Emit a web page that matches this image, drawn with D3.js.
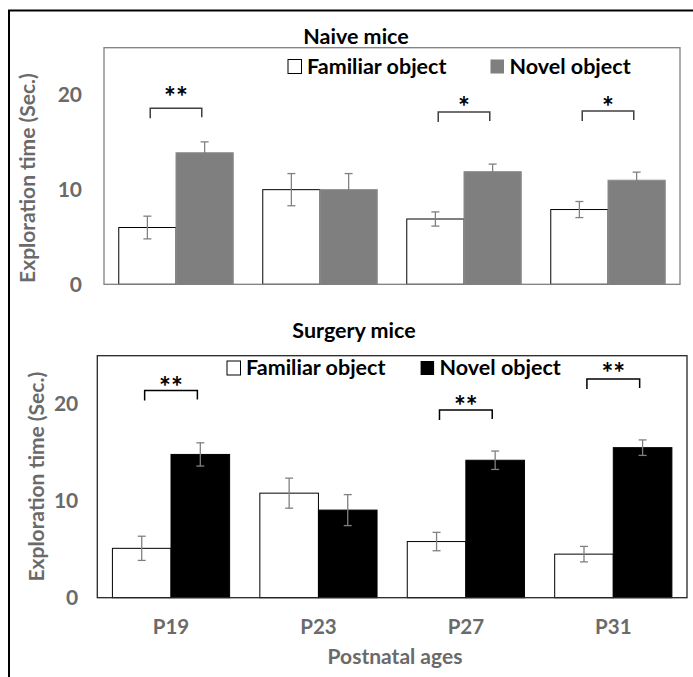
<!DOCTYPE html>
<html lang="en">
<head>
<meta charset="UTF-8">
<title>Exploration time</title>
<script src="https://d3js.org/d3.v7.min.js"></script>
<style>
    * { margin: 0; padding: 0; }
    body { background: white; font-family: Lato, "Open Sans", sans-serif; }
    text { font-family: Lato, "Open Sans", sans-serif; font-weight: bold; }
</style>
</head>
<body>
<script>
// values
const ages = ["P19", "P23", "P27", "P31"];
const yTicks = [0, 10, 20];
const seriesNames = ["Familiar object", "Novel object"];

const naiveFamiliar    = [6.0, 10.0, 6.9, 7.9];
const naiveFamiliarErr = [1.2, 1.7, 0.75, 0.85];
const naiveNovel       = [13.9, 10.0, 11.9, 11.0];
const naiveNovelErr    = [1.15, 1.7, 0.8, 0.85];

const surgeryFamiliar    = [5.1, 10.8, 5.8, 4.5];
const surgeryFamiliarErr = [1.25, 1.55, 0.95, 0.8];
const surgeryNovel       = [14.8, 9.05, 14.2, 15.5];
const surgeryNovelErr    = [1.2, 1.6, 0.95, 0.8];

// significance marks: bracket level and star level in seconds
const naiveSig = [
    { age: "P19", stars: "**", level: 18.6, labelLevel: 20.2 },
    { age: "P27", stars: "*",  level: 18.2, labelLevel: 19.2 },
    { age: "P31", stars: "*",  level: 18.3, labelLevel: 19.2 }
];
const surgerySig = [
    { age: "P19", stars: "**", level: 21.4, labelLevel: 22.2 },
    { age: "P27", stars: "**", level: 19.4, labelLevel: 20.2 },
    { age: "P31", stars: "**", level: 22.6, labelLevel: 23.6 }
];

const W = 693, H = 677;
const svg = d3.select("body").append("svg")
    .attr("width", W)
    .attr("height", H);

// outer frame (top and left edges only)
svg.append("path")
    .attr("d", `M9,${H} V10.5 H${W}`)
    .attr("fill", "none")
    .attr("stroke", "black")
    .attr("stroke-width", 2);

const grey = "#6a6a6a";

function drawPanel(p) {
    const x0 = d3.scaleBand()
        .domain(ages)
        .range([p.left, p.right])
        .paddingInner(0.205)
        .paddingOuter(0.1025);
    const x1 = d3.scaleBand()
        .domain(seriesNames)
        .range([0, x0.bandwidth()]);
    const y = d3.scaleLinear()
        .domain([0, 25])
        .range([p.bottom, p.top]);

    const g = svg.append("g");

    // title
    g.append("text")
        .attr("x", p.titleX)
        .attr("y", p.titleY)
        .attr("text-anchor", "middle")
        .attr("font-size", 21.5)
        .attr("fill", "black")
        .text(p.title);

    // bars
    const rows = ages.map((a, i) => ({
        age: a,
        vals: [
            { s: seriesNames[0], v: p.fam[i], e: p.famErr[i] },
            { s: seriesNames[1], v: p.nov[i], e: p.novErr[i] }
        ]
    }));

    const grp = g.selectAll(".grp")
        .data(rows)
        .join("g")
        .attr("class", "grp")
        .attr("transform", d => `translate(${x0(d.age)},0)`);

    grp.selectAll("rect")
        .data(d => d.vals)
        .join("rect")
        .attr("x", d => x1(d.s))
        .attr("y", d => y(d.v))
        .attr("width", x1.bandwidth())
        .attr("height", d => y(0) - y(d.v))
        .attr("fill", d => d.s === seriesNames[0] ? "white" : p.novelColor)
        .attr("stroke", d => d.s === seriesNames[0] ? "black" : p.novelStroke)
        .attr("stroke-width", 1);

    // error bars
    const eb = grp.selectAll(".eb")
        .data(d => d.vals)
        .join("g")
        .attr("class", "eb")
        .attr("stroke", "#808080")
        .attr("stroke-width", 1.3);
    const cx = d => x1(d.s) + x1.bandwidth() / 2;
    eb.append("line")
        .attr("x1", cx).attr("x2", cx)
        .attr("y1", d => y(d.v + d.e)).attr("y2", d => y(d.v - d.e));
    eb.append("line")
        .attr("x1", d => cx(d) - 4).attr("x2", d => cx(d) + 4)
        .attr("y1", d => y(d.v + d.e)).attr("y2", d => y(d.v + d.e));
    eb.append("line")
        .attr("x1", d => cx(d) - 4).attr("x2", d => cx(d) + 4)
        .attr("y1", d => y(d.v - d.e)).attr("y2", d => y(d.v - d.e));

    // plot box
    g.append("rect")
        .attr("x", p.left)
        .attr("y", p.top)
        .attr("width", p.right - p.left)
        .attr("height", p.bottom - p.top)
        .attr("fill", "none")
        .attr("stroke", p.boxColor)
        .attr("stroke-width", 1.3);

    // y axis labels
    const yAxis = d3.axisLeft(y).tickValues(yTicks).tickSize(0).tickPadding(p.tickPad);
    const ya = g.append("g")
        .attr("transform", `translate(${p.left},0)`)
        .call(yAxis);
    ya.select(".domain").remove();
    ya.selectAll("text")
        .attr("font-size", 21)
        .attr("fill", grey)
        .attr("font-family", "Lato, sans-serif")
        .attr("font-weight", "bold");

    // y axis title
    g.append("text")
        .attr("transform", `translate(${p.yTitleX},${(p.top + p.bottom) / 2 + p.yTitleShift}) rotate(-90)`)
        .attr("text-anchor", "middle")
        .attr("font-size", 21)
        .attr("fill", grey)
        .text("Exploration time (Sec.)");

    // significance brackets
    p.sig.forEach(s => {
        const bx = x0(s.age);
        const xl = bx + x1(seriesNames[0]) + x1.bandwidth() * 0.55;
        const xr = bx + x1(seriesNames[1]) + x1.bandwidth() * 0.45;
        const yl = y(s.level);
        g.append("path")
            .attr("d", `M${xl},${yl + 10} V${yl} H${xr} V${yl + 9}`)
            .attr("fill", "none")
            .attr("stroke", p.bracketColor)
            .attr("stroke-width", 1.5);
        g.append("text")
            .attr("x", (xl + xr) / 2)
            .attr("y", y(s.labelLevel) + 14)
            .attr("text-anchor", "middle")
            .attr("font-size", 28)
            .attr("fill", "black")
            .text(s.stars);
    });

    // legend
    const leg = g.append("g");
    p.legend.forEach((l, i) => {
        leg.append("rect")
            .attr("x", l.x)
            .attr("y", l.y - 14)
            .attr("width", 13.5)
            .attr("height", 14)
            .attr("fill", i === 0 ? "white" : p.novelColor)
            .attr("stroke", i === 0 ? "black" : "none")
            .attr("stroke-width", 1);
        leg.append("text")
            .attr("x", l.x + 19)
            .attr("y", l.y)
            .attr("font-size", 21.5)
            .attr("fill", "black")
            .text(seriesNames[i]);
    });

    if (p.xLabels) {
        const xa = g.append("g")
            .attr("transform", `translate(0,${p.bottom})`)
            .call(d3.axisBottom(x0).tickSize(0).tickPadding(22));
        xa.select(".domain").remove();
        xa.selectAll("text")
            .attr("font-size", 20.5)
            .attr("fill", grey)
            .attr("font-family", "Lato, sans-serif")
            .attr("font-weight", "bold");
        g.append("text")
            .attr("x", 395)
            .attr("y", 664)
            .attr("text-anchor", "middle")
            .attr("font-size", 21)
            .attr("fill", grey)
            .text("Postnatal ages");
    }
}

drawPanel({
    title: "Naive mice", titleX: 356, titleY: 43.5,
    left: 104, right: 680, top: 47.7, bottom: 284.3,
    fam: naiveFamiliar, famErr: naiveFamiliarErr,
    nov: naiveNovel, novErr: naiveNovelErr,
    novelColor: "#7f7f7f", novelStroke: "#8c8c8c",
    boxColor: "#7f7f7f", bracketColor: "#404040",
    tickPad: 22, yTitleX: 35, yTitleShift: 12,
    sig: naiveSig,
    legend: [{ x: 288, y: 73.5 }, { x: 490.5, y: 73.5 }],
    xLabels: false
});

drawPanel({
    title: "Surgery mice", titleX: 354, titleY: 337.5,
    left: 97.3, right: 687, top: 355.7, bottom: 597.7,
    fam: surgeryFamiliar, famErr: surgeryFamiliarErr,
    nov: surgeryNovel, novErr: surgeryNovelErr,
    novelColor: "black", novelStroke: "black",
    boxColor: "#262626", bracketColor: "black",
    tickPad: 19, yTitleX: 44, yTitleShift: 0,
    sig: surgerySig,
    legend: [{ x: 227, y: 375 }, { x: 420.6, y: 375 }],
    xLabels: true
});
</script>
</body>
</html>
